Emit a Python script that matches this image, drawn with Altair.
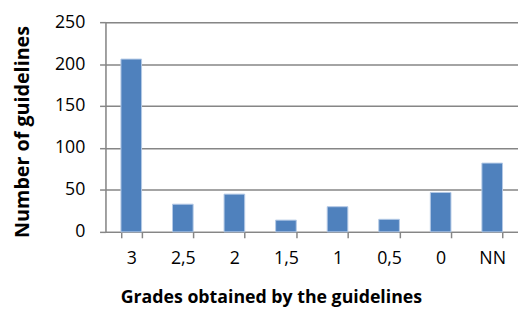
import altair as alt
import pandas as pd

grades = ["3", "2,5", "2", "1,5", "1", "0,5", "0", "NN"]
counts = [206, 33, 45, 14, 30, 15, 47, 82]

df = pd.DataFrame({"grade": grades, "count": counts})

FONT = "Open Sans"

chart = alt.Chart(df).mark_bar(
    color="#4F81BD", stroke="#B4C9E6", strokeWidth=1
).encode(
    x=alt.X(
        "grade:N",
        sort=grades,
        scale=alt.Scale(paddingInner=0.6, paddingOuter=0.3),
        axis=alt.Axis(
            title="Grades obtained by the guidelines",
            labelAngle=0,
            labelFont=FONT,
            labelFontSize=18,
            labelColor="#000000",
            labelPadding=12,
            tickBand="extent",
            tickSize=6,
            tickColor="#868686",
            tickWidth=1.5,
            domainColor="#868686",
            domainWidth=1.5,
            grid=False,
            titleFont=FONT,
            titleFontSize=18,
            titleFontWeight="bold",
            titleColor="#000000",
            titleAnchor="start",
            titleX=15,
            titleY=58,
        ),
    ),
    y=alt.Y(
        "count:Q",
        scale=alt.Scale(domain=[0, 250]),
        axis=alt.Axis(
            title="Number of guidelines",
            values=[0, 50, 100, 150, 200, 250],
            labelFont=FONT,
            labelFontSize=18,
            labelColor="#000000",
            labelPadding=15,
            tickSize=6,
            tickColor="#868686",
            tickWidth=1.5,
            domainColor="#868686",
            domainWidth=1.5,
            gridColor="#868686",
            gridWidth=1.5,
            titleFont=FONT,
            titleFontSize=20,
            titleFontWeight="bold",
            titleColor="#000000",
            titleX=-74,
            titleY=111,
            titleAnchor="middle",
        ),
    ),
).properties(
    width=419,
    height=213,
    autosize=alt.AutoSizeParams(type="none"),
    padding={"left": 99, "top": 12, "right": 0, "bottom": 80},
).configure_view(stroke=None).configure(background="#ffffff")

chart.save("out.html", embed_options={"renderer": "svg", "actions": False})
